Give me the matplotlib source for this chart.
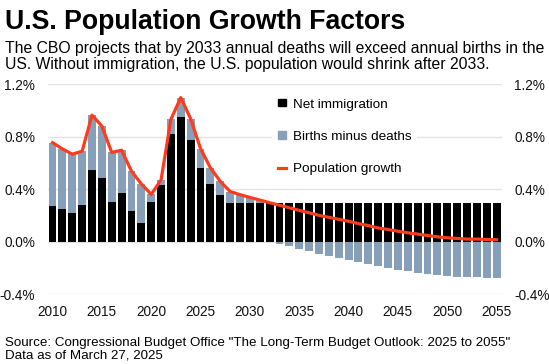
import numpy as np
import matplotlib.pyplot as plt
from matplotlib.patches import Patch
from matplotlib.lines import Line2D

plt.rcParams['font.family'] = ['Liberation Sans', 'DejaVu Sans']

years = list(range(2010, 2056))

# percent of population
net_immigration = [0.270, 0.245, 0.221, 0.277, 0.546, 0.488, 0.299, 0.370, 0.230, 0.143,
                   0.304, 0.431, 0.824, 0.952, 0.772, 0.563, 0.436, 0.352] + [0.293] * 28
births_minus_deaths = [0.485, 0.462, 0.446, 0.413, 0.418, 0.393, 0.381, 0.327, 0.307, 0.297,
                       0.056, 0.040, 0.110, 0.147, 0.164, 0.146, 0.127, 0.107, 0.089, 0.065,
                       0.044, 0.024, 0.004, -0.016, -0.035, -0.055, -0.073, -0.093, -0.108,
                       -0.123, -0.138, -0.156, -0.171, -0.189, -0.201, -0.214, -0.226,
                       -0.236, -0.247, -0.257, -0.264, -0.269, -0.274, -0.274, -0.277, -0.279]
population_growth = [0.755, 0.707, 0.667, 0.690, 0.965, 0.881, 0.680, 0.697, 0.537, 0.440,
                     0.360, 0.471, 0.934, 1.099, 0.936, 0.709, 0.563, 0.459, 0.382, 0.358,
                     0.337, 0.317, 0.297, 0.277, 0.258, 0.238, 0.220, 0.200, 0.185, 0.170,
                     0.155, 0.137, 0.122, 0.104, 0.092, 0.079, 0.067, 0.057, 0.046, 0.036,
                     0.029, 0.024, 0.019, 0.019, 0.016, 0.014]

BLACK = '#000000'
GRAY = '#879fb8'
RED = '#ff3b1f'

fig = plt.figure(figsize=(5.49, 3.64), dpi=100)
ax = fig.add_axes([0.0867, 0.1923, 0.8268, 0.5761])

bmd = np.array(births_minus_deaths)
net = np.array(net_immigration)
bottoms = np.where(bmd > 0, net, 0)

ax.bar(years, net_immigration, width=0.8, color=BLACK, zorder=2)
ax.bar(years, births_minus_deaths, bottom=bottoms, width=0.8, color=GRAY, zorder=2)
ax.plot(years, population_growth, color=RED, lw=2.3, zorder=3, solid_joinstyle='round')

ax.set_xlim(2009.5, 2055.5)
ax.set_ylim(-0.4, 1.2)
yt = [-0.4, 0.0, 0.4, 0.8, 1.2]
ax.set_yticks(yt)
ax.set_yticklabels([f'{v:.1f}%' for v in yt])
ax.set_xticks(range(2010, 2056, 5))
ax.grid(axis='y', color='#e4e4e4', lw=1, zorder=0)
for s in ax.spines.values():
    s.set_visible(False)
ax.tick_params(axis='both', length=0, labelsize=9.8, colors='#111111')
ax.tick_params(axis='y', labelright=True, pad=9)
ax.tick_params(axis='x', pad=8)

handles = [Patch(color=BLACK), Patch(color=GRAY), Line2D([0], [0], color=RED, lw=2.3)]
labels = ['Net immigration', 'Births minus deaths', 'Population growth']
leg = ax.legend(handles, labels, loc='upper left', bbox_to_anchor=(0.48, 0.99),
                frameon=True, facecolor='white', edgecolor='none', framealpha=1,
                fontsize=9.7, handlelength=0.6, handleheight=0.45, handletextpad=0.55,
                labelspacing=1.5, borderpad=0.4, fancybox=False)
leg.set_zorder(5)

fig.text(0.009, 0.976, 'U.S. Population Growth Factors', fontsize=19.2,
         fontweight='bold', va='top', ha='left')
fig.text(0.009, 0.887, 'The CBO projects that by 2033 annual deaths will exceed annual births in the\n'
         'US. Without immigration, the U.S. population would shrink after 2033.',
         fontsize=11.3, va='top', ha='left', linespacing=1.05)
fig.text(0.009, 0.006, 'Source: Congressional Budget Office "The Long-Term Budget Outlook: 2025 to 2055"\n'
         'Data as of March 27, 2025', fontsize=9.6, va='bottom', ha='left', linespacing=1.1)

fig.savefig('out.png', dpi=100)
